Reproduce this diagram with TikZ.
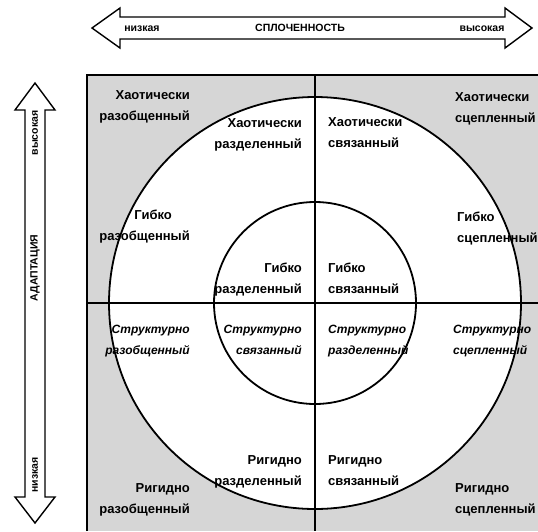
\documentclass[tikz,border=0pt]{standalone}
\usepackage{fontspec}
\setmainfont{Liberation Sans}
\begin{document}
\begin{tikzpicture}[x=1pt,y=-1pt]
	\tikzstyle{ring}=[circle,draw,line width=1.8pt,inner sep=0]
	\tikzstyle{rule}=[line width=1.4pt]
	\tikzstyle{band}=[draw,line width=1.4pt,fill=white,line join=miter]
	\tikzstyle{cell}=[font=\fontsize{13}{21}\selectfont\bfseries,inner sep=0]
	\tikzstyle{slant}=[font=\fontsize{12}{21}\selectfont\bfseries\itshape]
	\tikzstyle{lcell}=[cell,align=right,anchor=north east]
	\tikzstyle{rcell}=[cell,align=left,anchor=north west]
	\tikzstyle{tag}=[font=\fontsize{10.5}{12}\selectfont\bfseries,inner sep=0]
	
	\useasboundingbox (0,0) rectangle (538,531);
	
	% axes
	\draw[band] (92,28) -- (120,8) -- (120,17) -- (505,17) -- (505,8) -- (532,28)
		-- (505,48) -- (505,39) -- (120,39) -- (120,48) -- cycle;
	\draw[band] (35,83) -- (15,110) -- (25,110) -- (25,497) -- (15,497) -- (35,523)
		-- (55,497) -- (45,497) -- (45,110) -- (55,110) -- cycle;
	
	\node [tag] (lowC)  at (142,29) {низкая};
	\node [tag] (coh)   at (300,28) {СПЛОЧЕННОСТЬ};
	\node [tag] (highC) at (482,29) {высокая};
	\node [tag, rotate=90] (highA) at (35,133) {высокая};
	\node [tag, rotate=90] (adapt) at (35,268) {АДАПТАЦИЯ};
	\node [tag, rotate=90] (lowA)  at (35,475) {низкая};
	
	% field
	\coordinate (tl) at (87,75);
	\coordinate (tr) at (538,75);
	\coordinate (bl) at (87,531);
	\coordinate (n) at (315,75);
	\coordinate (s) at (315,531);
	\coordinate (w) at (87,303);
	\coordinate (e) at (538,303);
	\fill[black!16] (tl) rectangle (538,531);
	\node [ring, fill=white, minimum size=412pt] (outer) at (315,303) {};
	\draw[rule] (n) -- (s);
	\draw[rule] (w) -- (e);
	\node [ring, minimum size=202pt] (inner) at (315,303) {};
	\draw[rule] (bl) -- (tl) -- (tr);
	
	\node [lcell] (c1) at (190,90)  {Хаотически\\разобщенный};
	\node [lcell] (c2) at (302,118) {Хаотически\\разделенный};
	\node [rcell] (c3) at (328,117) {Хаотически\\связанный};
	\node [rcell] (c4) at (455,92)  {Хаотически\\сцепленный};
	
	\node [lcell] (f1) at (190,210) {Гибко\hspace*{18pt}\\разобщенный};
	\node [lcell] (f2) at (302,263) {Гибко\\разделенный};
	\node [rcell] (f3) at (328,263) {Гибко\\связанный};
	\node [rcell] (f4) at (457,212) {Гибко\\сцепленный};
	
	\node [lcell, slant] (s1) at (190,325) {Структурно\\разобщенный};
	\node [lcell, slant] (s2) at (302,325) {Структурно\\связанный};
	\node [rcell, slant] (s3) at (328,325) {Структурно\\разделенный};
	\node [rcell, slant] (s4) at (453,325) {Структурно\\сцепленный};
	
	\node [lcell] (r1) at (190,483) {Ригидно\\разобщенный};
	\node [lcell] (r2) at (302,455) {Ригидно\\разделенный};
	\node [rcell] (r3) at (328,455) {Ригидно\\связанный};
	\node [rcell] (r4) at (455,483) {Ригидно\\сцепленный};
\end{tikzpicture}
\end{document}
